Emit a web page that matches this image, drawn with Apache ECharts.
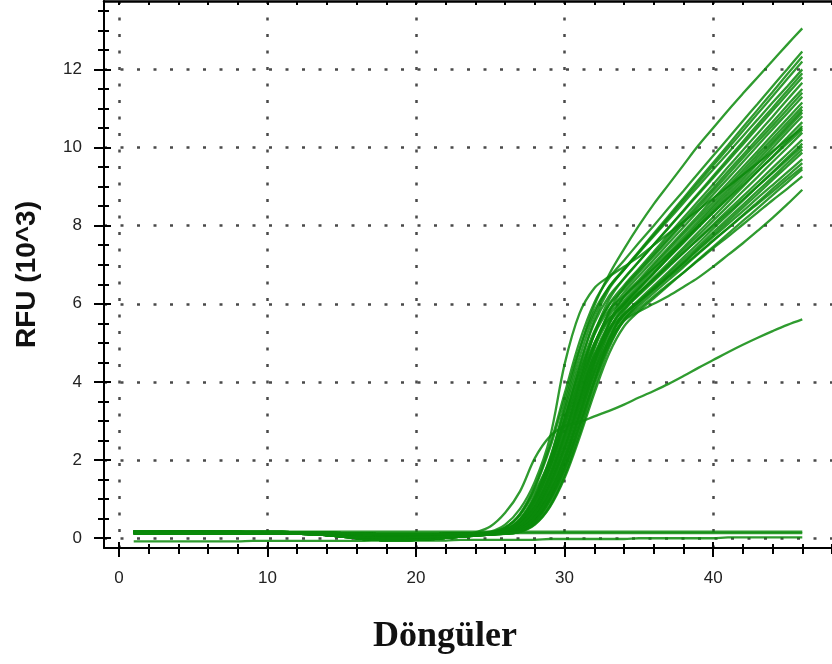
<!DOCTYPE html>
<html><head><meta charset="utf-8">
<script src="https://cdn.jsdelivr.net/npm/echarts@6/dist/echarts.min.js"></script>
<style>html,body{margin:0;padding:0;background:#fff}#chart{width:832px;height:664px}</style>
</head><body><div id="chart"></div>
<script>
const cycles = [1,2,3,4,5,6,7,8,9,10,11,12,13,14,15,16,17,18,19,20,21,22,23,24,25,26,27,28,29,30,31,32,33,34,35,36,37,38,39,40,41,42,43,44,45,46];
const xMajorTicks = [0,10,20,30,40];
const xMinorTicks = [0,2,4,6,8,10,12,14,16,18,20,22,24,26,28,30,32,34,36,38,40,42,44,46,48];
const yMajorTicks = [0,2,4,6,8,10,12];
const yMinorTicks = [0,0.5,1,1.5,2,2.5,3,3.5,4,4.5,5,5.5,6,6.5,7,7.5,8,8.5,9,9.5,10,10.5,11,11.5,12,12.5,13,13.5];

const curve01 = [0.14,0.14,0.14,0.14,0.14,0.14,0.14,0.14,0.14,0.13,0.13,0.12,0.1,0.08,0.05,0.03,0.02,0.01,0.01,0.02,0.03,0.05,0.07,0.09,0.15,0.27,0.63,1.33,2.37,3.70,5.02,6.03,6.66,7.11,7.56,8.00,8.45,8.89,9.34,9.79,10.23,10.68,11.12,11.57,12.01,12.46];
const curve02 = [0.16,0.16,0.16,0.16,0.16,0.16,0.15,0.15,0.15,0.15,0.14,0.13,0.11,0.08,0.04,0,-0.03,-0.05,-0.05,-0.04,-0.02,0.01,0.04,0.07,0.13,0.22,0.50,1.10,2.04,3.30,4.62,5.72,6.44,6.89,7.34,7.80,8.25,8.70,9.16,9.61,10.06,10.52,10.97,11.42,11.88,12.33];
const curve03 = [0.12,0.12,0.12,0.12,0.12,0.12,0.12,0.12,0.12,0.12,0.12,0.12,0.12,0.11,0.1,0.09,0.08,0.07,0.07,0.07,0.08,0.09,0.1,0.11,0.14,0.26,0.60,1.29,2.29,3.56,4.84,5.81,6.43,6.87,7.32,7.76,8.20,8.65,9.09,9.54,9.98,10.42,10.87,11.31,11.76,12.2];
const curve04 = [0.18,0.18,0.17,0.17,0.17,0.17,0.17,0.17,0.16,0.16,0.16,0.15,0.15,0.14,0.13,0.12,0.11,0.1,0.1,0.1,0.1,0.11,0.11,0.12,0.12,0.19,0.41,0.93,1.81,3.02,4.37,5.58,6.38,6.87,7.30,7.73,8.15,8.58,9.01,9.44,9.86,10.29,10.72,11.15,11.57,12.0];
const curve05 = [0.14,0.14,0.14,0.14,0.14,0.14,0.14,0.14,0.14,0.13,0.13,0.12,0.1,0.08,0.05,0.03,0.02,0.01,0.01,0.02,0.03,0.05,0.07,0.09,0.13,0.21,0.48,1.06,1.96,3.18,4.45,5.51,6.20,6.64,7.08,7.52,7.95,8.39,8.83,9.27,9.71,10.15,10.59,11.02,11.46,11.9];
const curve06 = [0.16,0.16,0.16,0.16,0.16,0.16,0.15,0.15,0.15,0.15,0.14,0.13,0.11,0.08,0.04,0,-0.03,-0.05,-0.05,-0.04,-0.02,0.01,0.04,0.07,0.1,0.17,0.33,0.75,1.54,2.64,3.96,5.23,6.11,6.65,7.08,7.51,7.94,8.37,8.80,9.22,9.65,10.08,10.51,10.94,11.37,11.8];
const curve07 = [0.12,0.12,0.12,0.12,0.12,0.12,0.12,0.12,0.12,0.12,0.12,0.12,0.12,0.11,0.1,0.09,0.08,0.07,0.07,0.07,0.08,0.09,0.1,0.11,0.12,0.18,0.39,0.87,1.70,2.84,4.10,5.23,5.99,6.47,6.90,7.33,7.77,8.20,8.63,9.06,9.50,9.93,10.36,10.79,11.23,11.66];
const curve08 = [0.18,0.18,0.17,0.17,0.17,0.17,0.17,0.17,0.16,0.16,0.16,0.15,0.15,0.14,0.13,0.12,0.11,0.1,0.1,0.1,0.1,0.11,0.11,0.12,0.12,0.14,0.26,0.60,1.29,2.29,3.56,4.84,5.81,6.42,6.85,7.27,7.69,8.12,8.54,8.96,9.39,9.81,10.23,10.65,11.08,11.5];
const curve09 = [0.14,0.14,0.14,0.14,0.14,0.14,0.14,0.14,0.14,0.13,0.13,0.12,0.1,0.08,0.05,0.03,0.02,0.01,0.01,0.02,0.03,0.05,0.07,0.09,0.12,0.20,0.46,1.02,1.89,3.06,4.28,5.30,5.97,6.38,6.80,7.22,7.64,8.06,8.47,8.89,9.31,9.73,10.15,10.56,10.98,11.4];
const curve10 = [0.16,0.16,0.16,0.16,0.16,0.16,0.15,0.15,0.15,0.15,0.14,0.13,0.11,0.08,0.04,0,-0.03,-0.05,-0.05,-0.04,-0.02,0.01,0.04,0.07,0.09,0.16,0.31,0.71,1.46,2.50,3.74,4.94,5.77,6.29,6.71,7.13,7.55,7.96,8.38,8.80,9.21,9.63,10.05,10.47,10.88,11.3];
const curve11 = [0.12,0.12,0.12,0.12,0.12,0.12,0.12,0.12,0.12,0.12,0.12,0.12,0.12,0.11,0.1,0.09,0.08,0.07,0.07,0.07,0.08,0.09,0.1,0.11,0.11,0.13,0.21,0.48,1.06,1.96,3.18,4.45,5.51,6.20,6.61,7.03,7.44,7.85,8.26,8.68,9.09,9.50,9.91,10.33,10.74,11.15];
const curve12 = [0.18,0.18,0.17,0.17,0.17,0.17,0.17,0.17,0.16,0.16,0.16,0.15,0.15,0.14,0.13,0.12,0.11,0.1,0.1,0.1,0.1,0.11,0.11,0.12,0.12,0.17,0.37,0.83,1.62,2.70,3.90,4.98,5.70,6.16,6.56,6.97,7.38,7.79,8.19,8.60,9.01,9.42,9.83,10.23,10.64,11.05];
const curve13 = [0.14,0.14,0.14,0.14,0.14,0.14,0.14,0.14,0.14,0.13,0.13,0.12,0.1,0.08,0.05,0.03,0.02,0.01,0.01,0.02,0.03,0.05,0.07,0.09,0.1,0.13,0.24,0.57,1.21,2.16,3.37,4.57,5.49,6.07,6.48,6.89,7.29,7.70,8.11,8.52,8.93,9.34,9.75,10.15,10.56,10.97];
const curve14 = [0.16,0.16,0.16,0.16,0.16,0.16,0.15,0.15,0.15,0.15,0.14,0.13,0.11,0.08,0.04,0,-0.03,-0.05,-0.05,-0.04,-0.02,0.01,0.04,0.07,0.09,0.15,0.30,0.67,1.39,2.38,3.56,4.70,5.49,6.00,6.40,6.81,7.22,7.63,8.04,8.45,8.86,9.27,9.67,10.08,10.49,10.9];
const curve15 = [0.12,0.12,0.12,0.12,0.12,0.12,0.12,0.12,0.12,0.12,0.12,0.12,0.12,0.11,0.1,0.09,0.08,0.07,0.07,0.07,0.08,0.09,0.1,0.11,0.11,0.12,0.20,0.46,1.02,1.89,3.06,4.28,5.30,5.97,6.37,6.77,7.18,7.58,7.98,8.38,8.79,9.19,9.59,9.99,10.40,10.8];
const curve16 = [0.18,0.18,0.17,0.17,0.17,0.17,0.17,0.17,0.16,0.16,0.16,0.15,0.15,0.14,0.13,0.12,0.11,0.1,0.1,0.1,0.1,0.11,0.11,0.12,0.12,0.17,0.36,0.81,1.59,2.65,3.82,4.88,5.59,6.02,6.41,6.79,7.18,7.56,7.95,8.34,8.72,9.11,9.49,9.88,10.26,10.65];
const curve17 = [0.14,0.14,0.14,0.14,0.14,0.14,0.14,0.14,0.14,0.13,0.13,0.12,0.1,0.08,0.05,0.03,0.02,0.01,0.01,0.02,0.03,0.05,0.07,0.09,0.1,0.13,0.24,0.55,1.18,2.10,3.27,4.44,5.33,5.89,6.28,6.67,7.05,7.44,7.83,8.22,8.61,9.00,9.39,9.77,10.16,10.55];
const curve18 = [0.16,0.16,0.16,0.16,0.16,0.16,0.15,0.15,0.15,0.15,0.14,0.13,0.11,0.08,0.04,0,-0.03,-0.05,-0.05,-0.04,-0.02,0.01,0.04,0.07,0.09,0.11,0.17,0.38,0.85,1.65,2.75,3.98,5.08,5.81,6.25,6.62,7.00,7.38,7.75,8.13,8.50,8.88,9.25,9.63,10.00,10.38];
const curve19 = [0.12,0.12,0.12,0.12,0.12,0.12,0.12,0.12,0.12,0.12,0.12,0.12,0.12,0.11,0.1,0.09,0.08,0.07,0.07,0.07,0.08,0.09,0.1,0.11,0.11,0.15,0.29,0.66,1.36,2.33,3.49,4.61,5.38,5.86,6.22,6.58,6.94,7.30,7.67,8.03,8.39,8.75,9.11,9.48,9.84,10.2];
const curve20 = [0.18,0.18,0.17,0.17,0.17,0.17,0.17,0.17,0.16,0.16,0.16,0.15,0.15,0.14,0.13,0.12,0.11,0.1,0.1,0.1,0.1,0.11,0.11,0.12,0.12,0.12,0.20,0.44,0.98,1.81,2.94,4.12,5.10,5.73,6.10,6.46,6.82,7.19,7.55,7.92,8.28,8.64,9.01,9.37,9.74,10.1];
const curve21 = [0.14,0.14,0.14,0.14,0.14,0.14,0.14,0.14,0.14,0.13,0.13,0.12,0.1,0.08,0.05,0.03,0.02,0.01,0.01,0.02,0.03,0.05,0.07,0.09,0.12,0.19,0.43,0.96,1.78,2.88,4.03,4.99,5.62,5.96,6.29,6.63,6.97,7.31,7.65,7.99,8.33,8.67,9.01,9.35,9.69,10.03];
const curve22 = [0.16,0.16,0.16,0.16,0.16,0.16,0.15,0.15,0.15,0.15,0.14,0.13,0.11,0.08,0.04,0,-0.03,-0.05,-0.05,-0.04,-0.02,0.01,0.04,0.07,0.09,0.13,0.23,0.54,1.14,2.04,3.17,4.30,5.16,5.70,6.06,6.41,6.77,7.12,7.47,7.83,8.18,8.53,8.89,9.24,9.60,9.95];
const curve23 = [0.12,0.12,0.12,0.12,0.12,0.12,0.12,0.12,0.12,0.12,0.12,0.12,0.12,0.11,0.1,0.09,0.08,0.07,0.07,0.07,0.08,0.09,0.1,0.11,0.11,0.11,0.17,0.36,0.81,1.59,2.65,3.82,4.88,5.59,6.00,6.35,6.70,7.05,7.41,7.76,8.11,8.46,8.81,9.17,9.52,9.87];
const curve24 = [0.18,0.18,0.17,0.17,0.17,0.17,0.17,0.17,0.16,0.16,0.16,0.15,0.15,0.14,0.13,0.12,0.11,0.1,0.1,0.1,0.1,0.11,0.11,0.12,0.12,0.14,0.29,0.65,1.33,2.28,3.42,4.51,5.27,5.72,6.05,6.39,6.72,7.05,7.38,7.71,8.04,8.37,8.71,9.04,9.37,9.7];
const curve25 = [0.14,0.14,0.14,0.14,0.14,0.14,0.14,0.14,0.14,0.13,0.13,0.12,0.1,0.08,0.05,0.03,0.02,0.01,0.01,0.02,0.03,0.05,0.07,0.09,0.1,0.12,0.19,0.43,0.96,1.78,2.88,4.03,4.99,5.62,5.95,6.28,6.61,6.94,7.28,7.61,7.94,8.27,8.60,8.94,9.27,9.6];
const curve26 = [0.16,0.16,0.16,0.16,0.16,0.16,0.15,0.15,0.15,0.15,0.14,0.13,0.11,0.08,0.04,0,-0.03,-0.05,-0.05,-0.04,-0.02,0.01,0.04,0.07,0.09,0.16,0.35,0.78,1.52,2.54,3.67,4.68,5.36,5.73,6.05,6.36,6.68,6.99,7.30,7.62,7.93,8.25,8.56,8.87,9.19,9.5];
const curve27 = [0.12,0.12,0.12,0.12,0.12,0.12,0.12,0.12,0.12,0.12,0.12,0.12,0.12,0.11,0.1,0.09,0.08,0.07,0.07,0.07,0.08,0.09,0.1,0.11,0.11,0.11,0.16,0.35,0.79,1.54,2.57,3.71,4.73,5.42,5.81,6.14,6.47,6.80,7.13,7.46,7.79,8.12,8.45,8.78,9.11,9.44];
const curve28 = [0.18,0.18,0.17,0.17,0.17,0.17,0.17,0.17,0.16,0.16,0.16,0.15,0.15,0.14,0.13,0.12,0.11,0.1,0.1,0.1,0.1,0.11,0.11,0.12,0.12,0.12,0.23,0.53,1.12,1.99,3.10,4.21,5.06,5.58,5.88,6.19,6.50,6.80,7.11,7.42,7.72,8.03,8.34,8.65,8.95,9.26];
const curve29 = [0.14,0.14,0.14,0.14,0.14,0.14,0.14,0.14,0.14,0.13,0.13,0.12,0.1,0.08,0.05,0.03,0.02,0.01,0.01,0.02,0.03,0.05,0.07,0.09,0.1,0.12,0.19,0.43,0.95,1.76,2.85,3.99,4.94,5.56,5.8,6.0,6.2,6.43,6.67,6.95,7.25,7.55,7.87,8.2,8.55,8.92];
const curve30 = [0.16,0.16,0.16,0.16,0.16,0.16,0.15,0.15,0.15,0.15,0.14,0.13,0.11,0.08,0.04,0,-0.03,-0.05,-0.05,-0.04,-0.02,0.01,0.04,0.07,0.12,0.20,0.45,1.00,1.85,3.00,4.20,5.20,5.85,6.20,6.56,6.91,7.27,7.62,7.98,8.33,8.69,9.04,9.40,9.75,10.11,10.46];
const earlyCurve = [0.12,0.12,0.12,0.12,0.12,0.12,0.12,0.12,0.12,0.12,0.12,0.12,0.12,0.11,0.1,0.09,0.08,0.07,0.07,0.07,0.08,0.09,0.1,0.13,0.17,0.35,0.75,1.45,2.55,4.45,5.75,6.4,6.7,6.95,7.2,7.5,7.8,8.1,8.4,8.7,9.0,9.3,9.6,9.9,10.2,10.5];
const topCurve = [0.18,0.18,0.17,0.17,0.17,0.17,0.17,0.17,0.16,0.16,0.16,0.15,0.15,0.14,0.13,0.12,0.11,0.1,0.1,0.1,0.1,0.11,0.11,0.12,0.15,0.28,0.6,1.2,2.0,3.4,4.8,5.95,6.75,7.4,8.0,8.55,9.05,9.55,10.05,10.5,10.95,11.38,11.8,12.22,12.64,13.05];
const lowCurve = [0.14,0.14,0.14,0.14,0.14,0.14,0.14,0.14,0.14,0.13,0.13,0.12,0.1,0.08,0.05,0.03,0.02,0.01,0.01,0.02,0.03,0.05,0.07,0.15,0.3,0.65,1.2,2.05,2.6,2.87,2.97,3.12,3.26,3.42,3.6,3.77,3.95,4.15,4.36,4.56,4.76,4.95,5.13,5.3,5.46,5.6];
const flatA = [0.17,0.17,0.17,0.17,0.17,0.17,0.17,0.17,0.17,0.17,0.17,0.17,0.17,0.17,0.17,0.17,0.17,0.17,0.17,0.17,0.17,0.17,0.17,0.17,0.17,0.17,0.17,0.17,0.17,0.17,0.17,0.17,0.17,0.17,0.17,0.17,0.17,0.17,0.17,0.17,0.17,0.17,0.17,0.17,0.17,0.17];
const flatB = [0.13,0.13,0.13,0.13,0.13,0.13,0.13,0.13,0.13,0.13,0.13,0.13,0.13,0.13,0.13,0.13,0.13,0.13,0.13,0.13,0.13,0.13,0.13,0.13,0.13,0.13,0.13,0.13,0.13,0.13,0.13,0.13,0.13,0.13,0.13,0.13,0.13,0.13,0.13,0.13,0.13,0.13,0.13,0.13,0.13,0.13];
const flatC = [-0.08,-0.08,-0.08,-0.08,-0.08,-0.08,-0.08,-0.08,-0.07,-0.07,-0.07,-0.07,-0.07,-0.07,-0.07,-0.07,-0.06,-0.06,-0.06,-0.06,-0.06,-0.06,-0.04,-0.04,-0.04,-0.04,-0.04,-0.04,-0.02,-0.02,-0.02,-0.02,-0.02,-0.02,0,0,0,0,0,0,0.02,0.02,0.02,0.02,0.02,0.02];

const curves = [flatA, flatB, flatC, curve01, curve02, curve03, curve04, curve05, curve06, curve07, curve08, curve09, curve10,
  curve11, curve12, curve13, curve14, curve15, curve16, curve17, curve18, curve19, curve20,
  curve21, curve22, curve23, curve24, curve25, curve26, curve27, curve28, curve29, curve30,
  earlyCurve, topCurve, lowCurve];

const chart = echarts.init(document.getElementById('chart'), null, {renderer: 'canvas'});
const axisColor = '#000';
const dotted = {color: '#4a4a4a', width: 2.5, type: [3, 13.5], cap: 'butt'};
const X_MIN = -1, X_MAX = 48, Y_MIN = -0.25, Y_MAX = 13.75;

function xAx(extra) {
  return Object.assign({
    type: 'value', min: X_MIN, max: X_MAX, position: 'bottom', gridIndex: 0,
    axisLine: {show: false, onZero: false},
    axisTick: {show: false}, axisLabel: {show: false}, splitLine: {show: false}
  }, extra);
}
function yAx(extra) {
  return Object.assign({
    type: 'value', min: Y_MIN, max: Y_MAX, position: 'left', gridIndex: 0,
    axisLine: {show: false, onZero: false},
    axisTick: {show: false}, axisLabel: {show: false}, splitLine: {show: false}
  }, extra);
}

const option = {
  animation: false,
  backgroundColor: '#fff',
  grid: {left: 104, right: -3, top: 1, bottom: 116, containLabel: false},
  xAxis: [
    xAx({
      axisLine: {show: true, onZero: false, lineStyle: {color: axisColor, width: 2}},
      axisTick: {show: true, customValues: xMinorTicks, length: 6, inside: false, lineStyle: {color: axisColor, width: 2}},
      axisLabel: {show: true, customValues: xMajorTicks, margin: 22, fontSize: 17, color: '#222', fontFamily: 'Liberation Sans, Arial, sans-serif'},
      name: 'Döngüler', nameLocation: 'middle', nameGap: 71,
      nameTextStyle: {fontFamily: 'Liberation Serif, Times New Roman, serif', fontWeight: 'bold', fontSize: 36, color: '#111', padding: [0, 46, 0, 0]}
    }),
    xAx({axisTick: {show: true, customValues: xMinorTicks, length: 4, inside: true, lineStyle: {color: axisColor, width: 2}}}),
    xAx({axisTick: {show: true, customValues: xMajorTicks, length: 9, inside: false, lineStyle: {color: axisColor, width: 2}}}),
    xAx({axisTick: {show: true, customValues: xMajorTicks, length: 6, inside: true, lineStyle: {color: axisColor, width: 2}}}),
    xAx({position: 'top',
      axisLine: {show: true, onZero: false, lineStyle: {color: axisColor, width: 2.5}},
      axisTick: {show: true, customValues: xMinorTicks, length: 4, inside: true, lineStyle: {color: axisColor, width: 2}}}),
    xAx({axisTick: {show: false, customValues: xMajorTicks}, splitLine: {show: true, lineStyle: dotted}})
  ],
  yAxis: [
    yAx({
      axisLine: {show: true, onZero: false, lineStyle: {color: axisColor, width: 2}},
      axisTick: {show: true, customValues: yMinorTicks, length: 6, inside: false, lineStyle: {color: axisColor, width: 2}},
      axisLabel: {show: true, customValues: yMajorTicks, margin: 22, fontSize: 17, color: '#222', fontFamily: 'Liberation Sans, Arial, sans-serif'},
      name: 'RFU (10^3)', nameLocation: 'middle', nameGap: 63,
      nameTextStyle: {fontFamily: 'Liberation Sans, Arial, sans-serif', fontWeight: 'bold', fontSize: 28, color: '#111'}
    }),
    yAx({axisTick: {show: true, customValues: yMinorTicks, length: 5, inside: true, lineStyle: {color: axisColor, width: 2}}}),
    yAx({axisTick: {show: true, customValues: yMajorTicks, length: 10, inside: false, lineStyle: {color: axisColor, width: 2}}}),
    yAx({axisTick: {show: true, customValues: yMajorTicks, length: 7, inside: true, lineStyle: {color: axisColor, width: 2}}}),
    yAx({axisTick: {show: false, customValues: yMajorTicks}, splitLine: {show: true, lineStyle: dotted}})
  ],
  series: curves.map(function (vals) {
    return {
      type: 'line', xAxisIndex: 0, yAxisIndex: 0,
      data: cycles.map(function (c, i) { return [c, vals[i]]; }),
      showSymbol: false, smooth: 0.35, silent: true, z: 3,
      lineStyle: {color: '#0b8a0b', width: 2.3, opacity: 0.85}
    };
  })
};
chart.setOption(option);
</script>
</body></html>
